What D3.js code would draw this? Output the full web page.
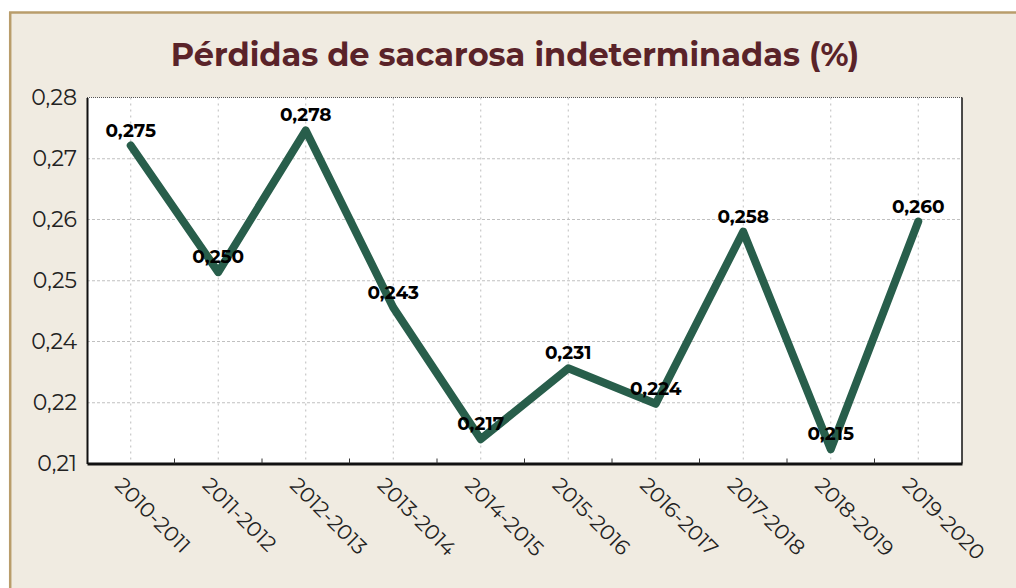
<!DOCTYPE html>
<html>
<head>
<meta charset="utf-8">
<script src="https://cdn.jsdelivr.net/npm/d3@7"></script>
<style>
  html, body { margin: 0; padding: 0; background: #ffffff; }
  svg { display: block; }
</style>
</head>
<body>
<svg id="chart" width="1016" height="588"></svg>
<script>
// Zafras and indeterminate sucrose losses (%)
const seasons = ["2010-2011", "2011-2012", "2012-2013", "2013-2014", "2014-2015",
                 "2015-2016", "2016-2017", "2017-2018", "2018-2019", "2019-2020"];
const losses = [0.275, 0.250, 0.278, 0.243, 0.217, 0.231, 0.224, 0.258, 0.215, 0.260];

// Value axis: seven evenly spaced gridlines, labelled to two decimals
const yDomain = [0.2122, 0.2845];
const yTicks = [0.2122, 0.2242, 0.2363, 0.2483, 0.2604, 0.2724, 0.2845];

const titleText = "Pérdidas de sacarosa indeterminadas (%)";

const W = 1016, H = 588;
const plot = { left: 87, right: 962, top: 97.5, bottom: 463.5 };
const FONT = "Montserrat, Inter, 'Noto Sans', sans-serif";

const svg = d3.select("#chart");

// Panel background and golden frame
svg.append("rect").attr("x", 10).attr("y", 12).attr("width", W - 10).attr("height", H - 12)
  .attr("fill", "#f0ebe1");
svg.append("line").attr("x1", 9).attr("x2", W).attr("y1", 12.5).attr("y2", 12.5)
  .attr("stroke", "#b99d6b").attr("stroke-width", 2.5);
svg.append("line").attr("x1", 10.2).attr("x2", 10.2).attr("y1", 12).attr("y2", H)
  .attr("stroke", "#b99d6b").attr("stroke-width", 2.5);

// Title
svg.append("text")
  .attr("x", 515).attr("y", 66)
  .attr("text-anchor", "middle")
  .attr("font-family", FONT).attr("font-weight", 700).attr("font-size", 32)
  .attr("fill", "#5a2329")
  .text(titleText);

const x = d3.scaleBand().domain(seasons).range([plot.left, plot.right]).paddingInner(0).paddingOuter(0);
const cx = s => x(s) + x.bandwidth() / 2;
const y = d3.scaleLinear().domain(yDomain).range([plot.bottom, plot.top]);

// Plot area
svg.append("rect")
  .attr("x", plot.left).attr("y", plot.top)
  .attr("width", plot.right - plot.left).attr("height", plot.bottom - plot.top)
  .attr("fill", "#ffffff");

// Horizontal gridlines
svg.append("g").selectAll("line").data(yTicks.slice(1, -1)).join("line")
  .attr("x1", plot.left).attr("x2", plot.right)
  .attr("y1", d => y(d)).attr("y2", d => y(d))
  .attr("stroke", "#c0c0c0").attr("stroke-width", 1).attr("stroke-dasharray", "3,2");

// Vertical gridlines at each season
svg.append("g").selectAll("line").data(seasons).join("line")
  .attr("x1", d => cx(d)).attr("x2", d => cx(d))
  .attr("y1", plot.top).attr("y2", plot.bottom)
  .attr("stroke", "#bdbdbd").attr("stroke-width", 1).attr("stroke-dasharray", "2,4");

// Frame: dotted top, solid right
svg.append("line").attr("x1", plot.left).attr("x2", plot.right)
  .attr("y1", plot.top).attr("y2", plot.top)
  .attr("stroke", "#555").attr("stroke-width", 1).attr("stroke-dasharray", "1,1");
svg.append("line").attr("x1", plot.right).attr("x2", plot.right)
  .attr("y1", plot.top).attr("y2", plot.bottom)
  .attr("stroke", "#111").attr("stroke-width", 1.5);

// Y axis
const fmt = d => d3.format(".2f")(d).replace(".", ",");
const yAxis = svg.append("g")
  .attr("transform", `translate(${plot.left},0)`)
  .call(d3.axisLeft(y).tickValues(yTicks).tickFormat(fmt).tickSize(0).tickPadding(10));
yAxis.select(".domain").attr("stroke", "#111").attr("stroke-width", 2);
yAxis.selectAll("text")
  .attr("font-family", FONT).attr("font-size", 22).attr("fill", "#222");

// X axis: ticks between seasons, labels rotated
const xAxis = svg.append("g")
  .attr("transform", `translate(0,${plot.bottom})`)
  .call(d3.axisBottom(x).tickSize(0).tickFormat(""));
xAxis.select(".domain").attr("stroke", "#111").attr("stroke-width", 3);
xAxis.selectAll(".tick").remove();

svg.append("g").selectAll("line").data(seasons.slice(1)).join("line")
  .attr("x1", d => x(d)).attr("x2", d => x(d))
  .attr("y1", plot.bottom - 5).attr("y2", plot.bottom)
  .attr("stroke", "#333").attr("stroke-width", 1);

svg.append("g").selectAll("text").data(seasons).join("text")
  .attr("transform", d => `translate(${cx(d) - 17},${plot.bottom + 23}) rotate(45)`)
  .attr("text-anchor", "start")
  .attr("font-family", FONT).attr("font-size", 21).attr("fill", "#222")
  .text(d => d);

// Series line
const pts = seasons.map((s, i) => ({ s, v: losses[i] }));
svg.append("path")
  .datum(pts)
  .attr("d", d3.line().x(d => cx(d.s)).y(d => y(d.v)))
  .attr("fill", "none")
  .attr("stroke", "#285e4b")
  .attr("stroke-width", 8)
  .attr("stroke-linecap", "round")
  .attr("stroke-linejoin", "round");

// Value labels
const fmt3 = d => d3.format(".3f")(d).replace(".", ",");
svg.append("g").selectAll("text").data(pts).join("text")
  .attr("x", d => cx(d.s))
  .attr("y", d => y(d.v) - 9)
  .attr("text-anchor", "middle")
  .attr("font-family", FONT).attr("font-weight", 700).attr("font-size", 18.5)
  .attr("fill", "#000")
  .text(d => fmt3(d.v));
</script>
</body>
</html>
